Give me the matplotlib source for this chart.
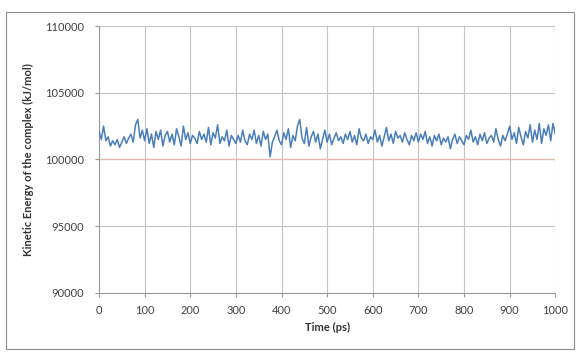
import numpy as np
import matplotlib
matplotlib.use("Agg")
import matplotlib.pyplot as plt
from matplotlib.patches import Rectangle

# time in ps, sampled every 5 ps
time_ps = np.arange(0, 1001, 5)

# kinetic energy of the complex (kJ/mol)
energy = [
    102100, 101500, 102500, 101400, 101700, 101000, 101400, 101100, 101500, 100900,
    101300, 101700, 101200, 101600, 101900, 101300, 102600, 103000, 101600, 102200,
    101400, 102300, 101200, 101900, 100900, 102100, 101500, 102200, 101000, 101800,
    102100, 101300, 101900, 101100, 102300, 101700, 101000, 102500, 101500, 102000,
    101200, 101800, 101600, 101200, 102100, 101500, 101900, 101300, 102400, 101100,
    102000, 101600, 102600, 101200, 101700, 101400, 102200, 101000, 101800, 101500,
    101200, 101800, 101300, 102200, 101400, 101100, 101900, 101500, 102200, 101200,
    101800, 101000, 102100, 101500, 101900, 100200, 101300, 101700, 102200, 101400,
    101100, 102000, 101500, 102300, 100900, 101800, 101400, 102500, 103000, 101600,
    101200, 102400, 101000, 101700, 102100, 101300, 101900, 100800, 101500, 102200,
    101300, 101900, 101100, 101600, 102000, 101400, 101700, 101200, 101900, 101500,
    102100, 101300, 101800, 101100, 102300, 101600, 101400, 101900, 101200, 101700,
    101500, 102200, 101300, 101800, 101000, 101700, 102400, 101400, 101900, 101200,
    102100, 101600, 101800, 101300, 102000, 101500, 101100, 101800, 101400, 102000,
    101300, 101900, 101500, 102100, 101200, 101700, 101000, 101800, 101400, 101900,
    101100, 101600, 101300, 101700, 100800, 101500, 101900, 101200, 101700, 101400,
    101100, 101800, 101500, 102200, 101300, 101700, 101100, 101900, 101400, 102000,
    101200, 101600, 101800, 101300, 102300, 101500, 101000, 101800, 101400, 101900,
    102500, 101500, 102000, 101200, 102400, 101700, 101100, 102100, 101600, 102600,
    101300, 102200, 101500, 102700, 101200, 102300, 101800, 102600, 101400, 102700,
    101900,
]

x_ticks = np.arange(0, 1001, 100)
y_ticks = np.arange(90000, 110001, 5000)

plt.rcParams["font.family"] = ["Lato", "DejaVu Sans"]

fig = plt.figure(figsize=(5.79, 3.52), dpi=100)
ax = fig.add_axes([0.171, 0.168, 0.788, 0.758])

# outer chart border, Excel style
fig.patches.append(Rectangle((6 / 579, 1 - 349 / 352), 568 / 579, 337 / 352,
                             transform=fig.transFigure, fill=False,
                             edgecolor="#8c8c8c", linewidth=0.8))

ax.axhline(100000, color="#e3b8b0", linewidth=0.9, zorder=1)
ax.plot(time_ps, energy, color="#4a7ebb", linewidth=1.1, zorder=3)

ax.set_xlim(0, 1000)
ax.set_ylim(90000, 110000)
ax.set_xticks(x_ticks)
ax.set_yticks(y_ticks)
ax.grid(True, color="#c4c4c4", linewidth=0.8)
ax.set_axisbelow(True)

for side in ["top", "right"]:
    ax.spines[side].set_visible(False)
for side in ["left", "bottom"]:
    ax.spines[side].set_color("#9a9a9a")
    ax.spines[side].set_linewidth(0.8)

ax.tick_params(axis="both", labelsize=8, colors="#9a9a9a", labelcolor="#404040",
               length=3, width=0.8)
ax.tick_params(axis="x", pad=6)
ax.tick_params(axis="y", pad=8)

ax.set_xlabel("Time (ps)", fontsize=8, fontweight="bold", color="#333333", labelpad=4)
ax.set_ylabel("Kinetic Energy of the complex (kJ/mol)", fontsize=8,
              fontweight="bold", color="#333333", labelpad=8)

fig.savefig("out.png", dpi=100)
